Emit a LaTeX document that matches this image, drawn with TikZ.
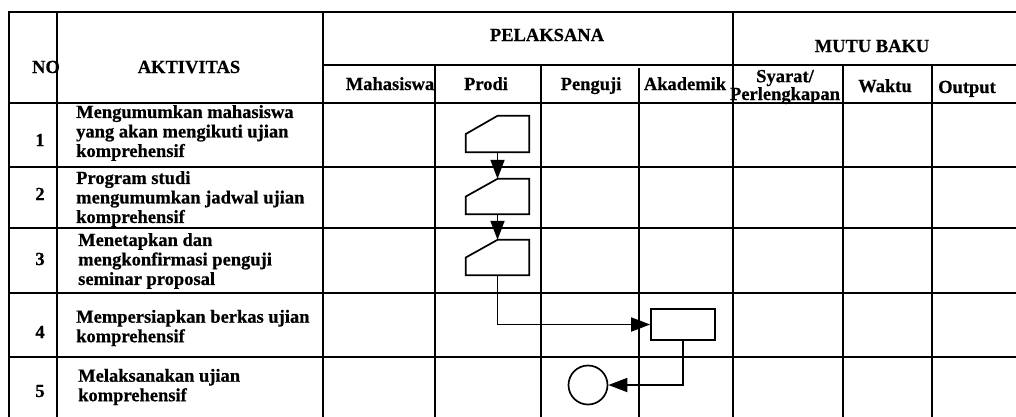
\documentclass[tikz,border=0pt]{standalone}
\usepackage{fontspec}
\setmainfont[BoldFeatures={FakeBold=0.6}]{Liberation Serif}
\usetikzlibrary{arrows.meta}
\tikzset{
  grid/.style={line width=1.7pt},
  hd/.style={font=\bfseries\fontsize{18.5}{19.5}\selectfont, inner sep=0pt, anchor=base},
  num/.style={font=\bfseries\fontsize{18.5}{19.5}\selectfont, inner sep=0pt},
  act/.style={font=\bfseries\fontsize{18.5}{19.5}\selectfont, inner sep=0pt, anchor=west, align=left},
  manin/.style={minimum width=63pt, minimum height=36pt, inner sep=0pt},
  box/.style={draw, line width=1.7pt, minimum width=64pt, minimum height=31pt, inner sep=0pt},
  term/.style={draw, circle, line width=1.7pt, minimum size=39pt, inner sep=0pt},
  flow/.style={line width=1.8pt, -{Triangle[length=19pt,width=14pt]}},
}
\begin{document}
\begin{tikzpicture}[x=1pt,y=-1pt]
\useasboundingbox (0,0) rectangle (1016,416);
\clip (0,0) rectangle (1016,416);

\draw[grid] (9,430) -- (9,12) -- (1030,12);
\draw[grid] (323,65) -- (1030,65);
\foreach \y in {103,167,228,293,357} \draw[grid] (9,\y) -- (1030,\y);
\foreach \x in {57,323,733} \draw[grid] (\x,12) -- (\x,430);
\foreach \x in {435,541,843,932} \draw[grid] (\x,65) -- (\x,430);
\draw[grid] (639,68) -- (639,430);

\node[hd] (no) at (46,73) {NO};
\node[hd] (aktivitas) at (189,73) {AKTIVITAS};
\node[hd] (pelaksana) at (547,41) {PELAKSANA};
\node[hd] (mutu) at (872,52) {MUTU BAKU};
\node[hd] (mhs) at (390,90) {Mahasiswa};
\node[hd] (prodi) at (486,90) {Prodi};
\node[hd] (penguji) at (591,90) {Penguji};
\node[hd] (akademik) at (685,90) {Akademik};
\node[num, align=center, font=\bfseries\fontsize{18.5}{15}\selectfont] (syarat) at (785,87) {Syarat/\\Perlengkapan};
\node[hd] (waktu) at (885,92) {Waktu};
\node[hd] (output) at (967,93) {Output};

\node[num] (n1) at (40,140) {1};
\node[num] (n2) at (40,194) {2};
\node[num] (n3) at (40,259) {3};
\node[num] (n4) at (40,332) {4};
\node[num] (n5) at (40,391) {5};

\node[act] (a1) at (76,133) {Mengumumkan mahasiswa\\yang akan mengikuti ujian\\komprehensif};
\node[act] (a2) at (76,199) {Program studi\\mengumumkan jadwal ujian\\komprehensif};
\node[act] (a3) at (78,261) {Menetapkan dan\\mengkonfirmasi penguji\\seminar proposal};
\node[act] (a4) at (76,328) {Mempersiapkan berkas ujian\\komprehensif};
\node[act] (a5) at (78,387) {Melaksanakan ujian\\komprehensif};

\node[manin] (p1) at (497.5,134) {};
\node[manin, minimum height=35pt] (p2) at (497.5,196.5) {};
\node[manin, minimum height=35pt] (p3) at (497.5,257.5) {};
\foreach \n in {p1,p2,p3}
  \draw[line width=1.7pt] (\n.west) -- (\n.north) -- (\n.north east) -- (\n.south east) -- (\n.south west) -- cycle;
\node[box] (berkas) at (683,324.5) {};
\node[term] (ujian) at (588,385) {};

\draw[flow] (p1.south) -- (p2.north);
\draw[flow] (p2.south) -- (p3.north);
\draw[flow] (p3.south) |- (berkas.west);
\draw[flow] (berkas.south) |- (ujian.east);
\end{tikzpicture}
\end{document}
